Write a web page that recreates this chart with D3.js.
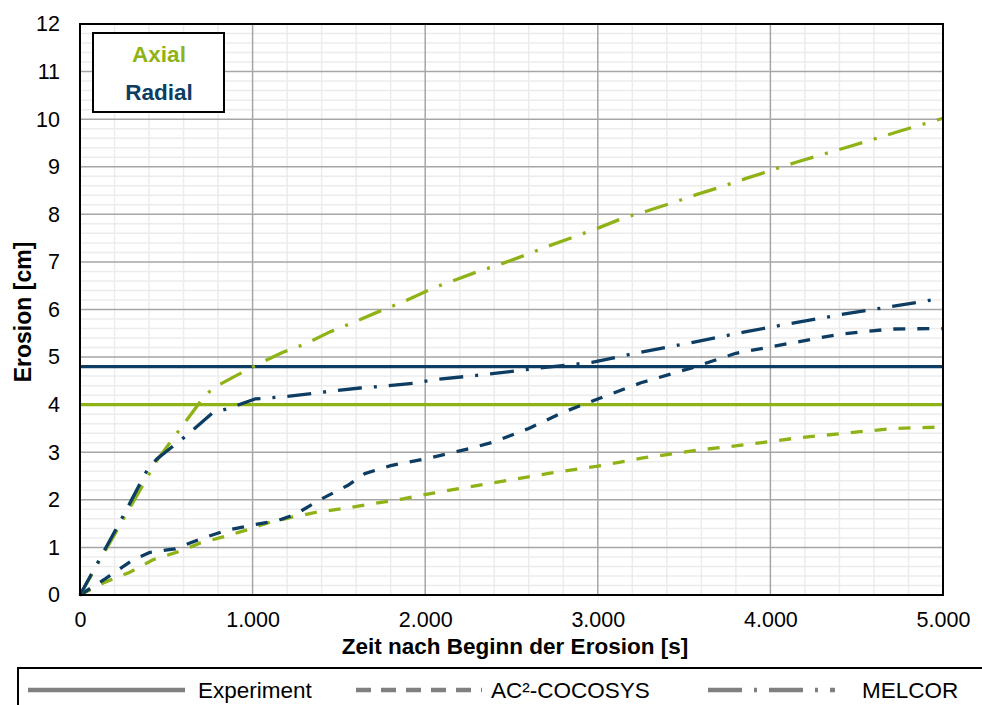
<!DOCTYPE html>
<html><head><meta charset="utf-8">
<script src="https://cdn.jsdelivr.net/npm/d3@7"></script>
<style>body{margin:0;background:#fff;} svg{display:block;font-family:"Liberation Sans",Arial,sans-serif;}</style>
</head><body><svg id="c" width="982" height="705"></svg>
<script>
const xTicks = [0, 1000, 2000, 3000, 4000, 5000];
const yTicks = [0,1,2,3,4,5,6,7,8,9,10,11,12];
const legendLabels = ["Experiment", "AC²-COCOSYS", "MELCOR"];
const boxLabels = ["Axial", "Radial"];

const expAxial = 4.0;
const expRadial = 4.8;

const cocAxialT = [0, 145, 290, 423, 562, 695, 829, 968, 1101, 1234, 1373, 1547, 1871, 2045, 2491, 2723, 3001, 3262, 3592, 3882, 4154, 4432, 4710, 5000];
const cocAxialY = [0, 0.27, 0.48, 0.74, 0.9, 1.09, 1.22, 1.37, 1.53, 1.64, 1.74, 1.83, 2.02, 2.14, 2.42, 2.56, 2.71, 2.88, 3.05, 3.17, 3.3, 3.4, 3.5, 3.53];

const cocRadialT = [0, 150, 300, 400, 550, 700, 850, 1000, 1150, 1250, 1400, 1550, 1650, 1800, 2000, 2250, 2400, 2600, 2800, 3000, 3250, 3550, 3800, 4100, 4400, 4700, 5000];
const cocRadialY = [0, 0.35, 0.72, 0.89, 0.97, 1.18, 1.36, 1.47, 1.57, 1.7, 2.02, 2.3, 2.55, 2.72, 2.86, 3.07, 3.22, 3.5, 3.84, 4.12, 4.46, 4.78, 5.08, 5.28, 5.48, 5.59, 5.6];

const melAxialT = [0, 446, 580, 713, 771, 910, 1031, 1176, 1315, 1448, 1593, 1727, 1871, 2045, 2300, 2433, 2578, 2711, 2856, 3001, 3146, 3285, 3430, 3575, 3708, 3864, 4154, 4444, 4733, 5000];
const melAxialY = [0, 2.83, 3.49, 4.14, 4.35, 4.62, 4.85, 5.1, 5.29, 5.53, 5.74, 5.95, 6.16, 6.45, 6.79, 6.95, 7.14, 7.33, 7.52, 7.71, 7.92, 8.07, 8.24, 8.42, 8.57, 8.76, 9.1, 9.41, 9.73, 10.02];

const melRadialT = [0, 104, 250, 390, 446, 620, 765, 869, 944, 1014, 1159, 1315, 1466, 1622, 1767, 1929, 2068, 2364, 2665, 2966, 3244, 3551, 3853, 4154, 4450, 4751, 5000];
const melRadialY = [0, 0.69, 1.66, 2.63, 2.86, 3.36, 3.82, 3.93, 4.03, 4.12, 4.16, 4.22, 4.29, 4.35, 4.39, 4.45, 4.53, 4.64, 4.77, 4.89, 5.1, 5.31, 5.53, 5.73, 5.92, 6.09, 6.24];

const GREEN = "#8fb316", NAVY = "#0d3d63", GRAY = "#808080";
const DASH = "12 12", DASHDOT = "24 12 3 12";
const FS = 22.5, TFS = 21.5;

const svg = d3.select("#c");
const m = {l:80, r:39, t:24, b:110};
const W = 982, H = 705;
const x = d3.scaleLinear().domain([0,5000]).range([m.l, W-m.r]);
const y = d3.scaleLinear().domain([0,12]).range([H-m.b, m.t]);

// minor grid
const g = svg.append("g");
g.selectAll(".mx").data(d3.range(200,5000,200).filter(v=>v%1000)).join("line")
  .attr("x1",d=>x(d)).attr("x2",d=>x(d)).attr("y1",y(0)).attr("y2",y(12))
  .attr("stroke","#ececec").attr("stroke-width",1.5);
g.selectAll(".my").data(d3.range(0.2,12,0.2).filter(v=>Math.abs(v-Math.round(v))>0.01)).join("line")
  .attr("y1",d=>y(d)).attr("y2",d=>y(d)).attr("x1",x(0)).attr("x2",x(5000))
  .attr("stroke","#ececec").attr("stroke-width",1.5);
// major grid
g.selectAll(".Mx").data(xTicks.slice(1,-1)).join("line")
  .attr("x1",d=>x(d)).attr("x2",d=>x(d)).attr("y1",y(0)).attr("y2",y(12))
  .attr("stroke","#a6a6a6").attr("stroke-width",1.5);
g.selectAll(".My").data(yTicks.slice(1,-1)).join("line")
  .attr("y1",d=>y(d)).attr("y2",d=>y(d)).attr("x1",x(0)).attr("x2",x(5000))
  .attr("stroke","#a6a6a6").attr("stroke-width",1.5);

// axes labels
const fmt = d => d===0 ? "0" : d3.format(",")(d).replace(/,/g,".");
const xa = svg.append("g").attr("transform",`translate(0,${y(0)})`)
  .call(d3.axisBottom(x).tickValues(xTicks).tickFormat(fmt).tickSize(0).tickPadding(17));
xa.select(".domain").remove();
xa.selectAll("text").attr("font-size",TFS).attr("fill","#000").attr("font-family","Liberation Sans, Arial");
const ya = svg.append("g").attr("transform",`translate(${x(0)},0)`)
  .call(d3.axisLeft(y).tickValues(yTicks).tickFormat(d3.format("d")).tickSize(0).tickPadding(20));
ya.select(".domain").remove();
ya.selectAll("text").attr("font-size",TFS).attr("fill","#000").attr("font-family","Liberation Sans, Arial");

svg.append("text").attr("x",515).attr("y",654).attr("text-anchor","middle")
  .attr("font-size",22.5).attr("font-weight","bold").text("Zeit nach Beginn der Erosion [s]");
svg.append("text").attr("transform",`translate(31,312) rotate(-90)`).attr("text-anchor","middle")
  .attr("font-size",23).attr("font-weight","bold").text("Erosion [cm]");

// lines
const line = d3.line().x(d=>x(d[0])).y(d=>y(d[1]));
function draw(T, Y, color, dash){
  svg.append("path").datum(T.map((t,i)=>[t,Y[i]])).attr("d",line)
    .attr("fill","none").attr("stroke",color).attr("stroke-width",3.3)
    .attr("stroke-dasharray",dash).attr("stroke-linejoin","round");
}
draw([0,5000],[expAxial,expAxial],GREEN,null);
draw([0,5000],[expRadial,expRadial],NAVY,null);
draw(cocAxialT,cocAxialY,GREEN,DASH);
draw(cocRadialT,cocRadialY,NAVY,DASH);
draw(melAxialT,melAxialY,GREEN,DASHDOT);
draw(melRadialT,melRadialY,NAVY,DASHDOT);

// plot border
svg.append("rect").attr("x",x(0)).attr("y",y(12)).attr("width",x(5000)-x(0)).attr("height",y(0)-y(12))
  .attr("fill","none").attr("stroke","#000").attr("stroke-width",2);

// top-left box
svg.append("rect").attr("x",93).attr("y",33).attr("width",131).attr("height",79)
  .attr("fill","#fff").attr("stroke","#000").attr("stroke-width",2);
svg.append("text").attr("x",159).attr("y",62).attr("text-anchor","middle").attr("font-size",FS)
  .attr("font-weight","bold").attr("fill",GREEN).text(boxLabels[0]);
svg.append("text").attr("x",159).attr("y",100).attr("text-anchor","middle").attr("font-size",FS)
  .attr("font-weight","bold").attr("fill",NAVY).text(boxLabels[1]);

// bottom legend
svg.append("rect").attr("x",18).attr("y",668).attr("width",1000).attr("height",60)
  .attr("fill","#fff").attr("stroke","#000").attr("stroke-width",2);
const leg = [
  {x1:28,x2:185,tx:198,dash:null},
  {x1:356,x2:482,tx:491,dash:"15 10"},
  {x1:708,x2:835,tx:862,dash:"34 12 3 12"}
];
leg.forEach((l,i)=>{
  svg.append("line").attr("x1",l.x1).attr("x2",l.x2).attr("y1",690).attr("y2",690)
    .attr("stroke",GRAY).attr("stroke-width",4.5).attr("stroke-dasharray",l.dash);
  svg.append("text").attr("x",l.tx).attr("y",698).attr("font-size",FS).attr("fill","#000").text(legendLabels[i]);
});
</script></body></html>
